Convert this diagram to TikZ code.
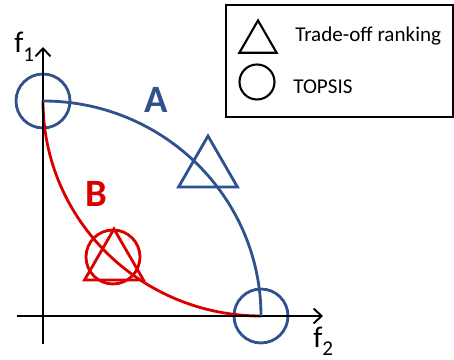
\documentclass[tikz,border=0pt]{standalone}
\usepackage{fontspec}
\setmainfont{Carlito}
\usetikzlibrary{arrows.meta,shapes.geometric}

\definecolor{frontblue}{RGB}{47,82,143}
\definecolor{frontred}{RGB}{218,0,0}

\tikzset{
  axis/.style={line width=1.1pt, -{Straight Barb[length=0.16cm, width=0.3cm, line width=1.1pt]}},
  front/.style={line width=1.6pt},
  topsis/.style={circle, draw, line width=1.6pt, inner sep=0pt, minimum size=1.08cm},
  tradeoff/.style={regular polygon, regular polygon sides=3, draw, line width=1.6pt, inner sep=0pt, minimum size=1.36cm},
  legendtext/.style={anchor=base west, inner sep=0pt, font=\fontsize{12}{14}\selectfont},
  frontlabel/.style={anchor=base, inner sep=0pt, font=\fontsize{22}{24}\selectfont\bfseries},
  axislabel/.style={anchor=base west, inner sep=0pt, font=\fontsize{17}{19}\selectfont}
}
\newcommand{\axsub}[1]{\raisebox{-0.28em}{\fontsize{12}{12}\selectfont #1}}

\begin{document}
\begin{tikzpicture}
\useasboundingbox (-0.86,-0.88) rectangle (8.22,6.32);
% axes
\coordinate (ybot) at (0,-0.56);
\coordinate (ytop) at (0,5.38);
\coordinate (xleft) at (-0.52,0);
\coordinate (xright) at (5.6,0);
% front B
\node[topsis, frontblue] (a1) at (0,4.30) {};
\node[topsis, frontblue] (a2) at (4.36,0) {};
\draw[front, frontred] (a1.center) .. controls (0,1.93) and (1.95,0) .. (a2.center);
\draw[axis] (ybot) -- (ytop);
\draw[axis] (xleft) -- (xright);
\node[axislabel] (f1) at (-0.58,5.26) {f\axsub{1}};
\node[axislabel] (f2) at (5.40,-0.63) {f\axsub{2}};
% front A
\draw[front, frontblue] (a1.center) .. controls (2.41,4.30) and (4.36,2.37) .. (a2.center);
\node[tradeoff, frontblue] (ta) at (3.30,2.92) {};
\node[frontlabel, frontblue] (la) at (2.26,4.06) {A};
% solutions on B
\node[topsis, frontred] (cb) at (1.40,1.18) {};
\node[tradeoff, frontred] (tb) at (1.42,1.06) {};
\node[frontlabel, frontred] (lb) at (1.06,2.18) {B};
% legend
\draw[line width=0.8pt] (3.66,3.98) rectangle (8.20,6.22);
\node[tradeoff, line width=1.2pt, minimum size=0.86cm] (lt) at (4.30,5.48) {};
\node[topsis, line width=1.2pt, minimum size=0.70cm] (lc) at (4.28,4.68) {};
\node[legendtext] (ltt) at (5.04,5.48) {Trade-off ranking};
\node[legendtext] (lct) at (5.00,4.44) {TOPSIS};
\end{tikzpicture}
\end{document}
